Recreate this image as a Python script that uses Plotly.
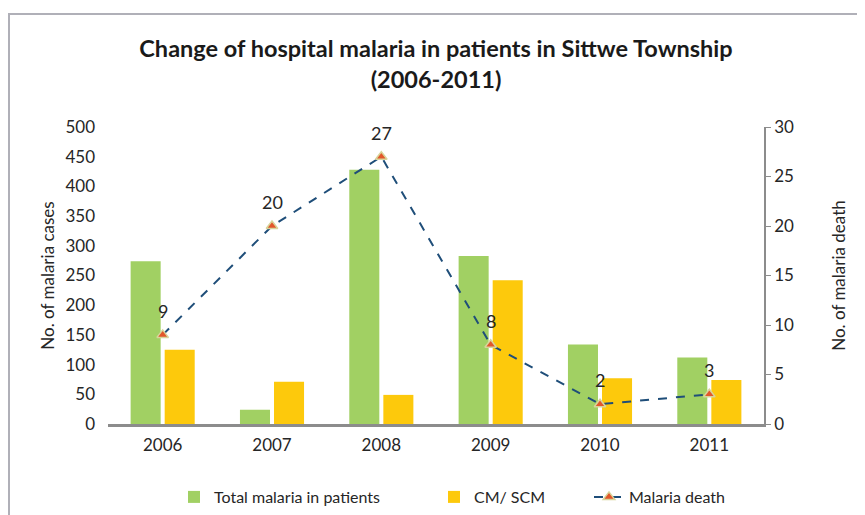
import plotly.graph_objects as go

years = ["2006", "2007", "2008", "2009", "2010", "2011"]
total_inpatients = [274, 24, 428, 283, 134, 112]
cm_scm = [125, 71, 49, 242, 77, 74]
malaria_death = [9, 20, 27, 8, 2, 3]

FONT = "Lato"
GRAY = "#8C8C8C"
OFF = 8  # page body margin

W, H = 865 - OFF, 515 - OFF
# plot area in page pixels
L, R, T, B = 108 - OFF, 764 - OFF, 127 - OFF, 424 - OFF
pw, ph = R - L, B - T


def px(x):
    return (x - OFF - L) / pw


def py(y):
    return (B - (y - OFF)) / ph


fig = go.Figure()
fig.add_trace(go.Bar(
    x=years, y=total_inpatients, name="Total malaria in patients",
    marker=dict(color="#A1D063", line=dict(width=0)), legend="legend", showlegend=True,
))
fig.add_trace(go.Bar(
    x=years, y=cm_scm, name="CM/ SCM",
    marker=dict(color="#FDC90C", line=dict(width=0)), legend="legend2", showlegend=True,
))
fig.add_trace(go.Scatter(
    x=years, y=malaria_death, name="Malaria death", yaxis="y2",
    mode="lines+markers",
    line=dict(color="#1F4E79", width=2, dash="dash"),
    marker=dict(symbol="triangle-up", size=10, color="#E2572B",
                line=dict(color="#D8D49A", width=1.5)),
    legend="legend3", cliponaxis=False, showlegend=True,
))

# data labels (x given as category index of each year)
annotations = [
    dict(x=i, y=v, xref="x", yref="y2", text=str(v), showarrow=False,
         yshift=24, font=dict(family=FONT, size=18, color="#262626"))
    for i, v in enumerate(malaria_death)
]

leg_common = dict(orientation="h", xanchor="left", yanchor="middle",
                  font=dict(family=FONT, size=16, color="#262626"),
                  bgcolor="rgba(0,0,0,0)")

fig.update_layout(
    width=W, height=H, showlegend=True,
    margin=dict(l=L, r=W - R, t=T, b=H - B, autoexpand=False),
    paper_bgcolor="white", plot_bgcolor="white",
    font=dict(family=FONT, size=17, color="#262626"),
    title=dict(
        text="<b>Change of hospital malaria in patients in Sittwe Township<br>(2006-2011)</b>",
        x=0.5, xanchor="center", xref="paper", y=1 - 49 / H, yanchor="middle",
        font=dict(family=FONT, size=23.5, color="#1A1A1A"),
    ),
    barmode="group", bargap=0.377, bargroupgap=0.118,
    xaxis=dict(
        type="category", categoryorder="array", categoryarray=years,
        showgrid=False, showline=True, linecolor=GRAY, linewidth=2.5,
        ticks="", tickfont=dict(family=FONT, size=17, color="#262626"),
        ticklabelstandoff=4,
    ),
    yaxis=dict(
        range=[0, 500], dtick=50, showgrid=False, showline=False, zeroline=False,
        ticks="", tickfont=dict(family=FONT, size=17, color="#262626"),
        ticklabelstandoff=12,
        title=dict(text="No. of malaria cases", font=dict(family=FONT, size=17), standoff=6),
    ),
    yaxis2=dict(
        range=[0, 30], dtick=5, overlaying="y", side="right", showgrid=False,
        showline=True, linecolor=GRAY, linewidth=1.5, ticks="outside", ticklen=5,
        tickcolor=GRAY, zeroline=False,
        tickfont=dict(family=FONT, size=17, color="#262626"),
        title=dict(text="No. of malaria death", font=dict(family=FONT, size=17), standoff=40),
    ),
    legend=dict(x=px(174), y=py(497), **leg_common),
    legend2=dict(x=px(434), y=py(497), **leg_common),
    legend3=dict(x=px(589), y=py(497), **leg_common),
    annotations=annotations,
    shapes=[dict(type="rect", xref="paper", yref="paper",
                 x0=px(9), x1=px(900), y0=py(14), y1=py(560),
                 line=dict(color="#B0B0B8", width=2), fillcolor="rgba(0,0,0,0)", layer="below")],
)

fig.write_html("out.html")
